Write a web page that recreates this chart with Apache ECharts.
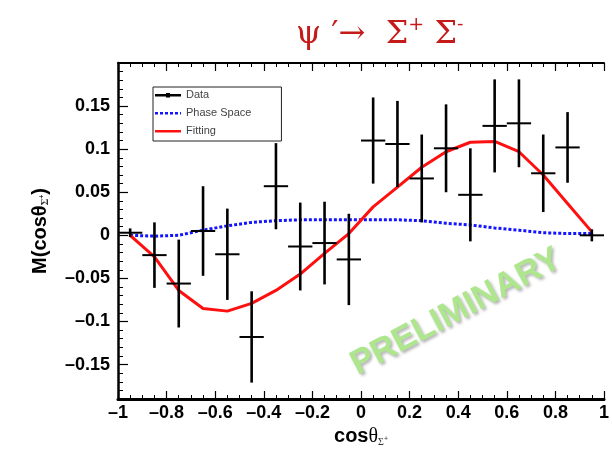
<!DOCTYPE html>
<html>
<head>
<meta charset="utf-8">
<script src="https://cdn.jsdelivr.net/npm/echarts@6/dist/echarts.min.js"></script>
<style>
  html, body { margin: 0; padding: 0; background: #fff; }
  #chart { width: 612px; height: 455px; }
</style>
</head>
<body>
<div id="chart"></div>
<script>
// bin centres of cos(theta), 20 bins of width 0.1
const binCenters = [-0.95, -0.85, -0.75, -0.65, -0.55, -0.45, -0.35, -0.25, -0.15, -0.05,
  0.05, 0.15, 0.25, 0.35, 0.45, 0.55, 0.65, 0.75, 0.85, 0.95]
const binHalfWidth = 0.05

// measured moments and their errors
const dataValues = [0.003, -0.023, -0.056, 0.005, -0.022, -0.118, 0.057, -0.013, -0.009, -0.028,
  0.110, 0.106, 0.066, 0.101, 0.047, 0.127, 0.130, 0.072, 0.102, 0.0]
const dataErrors = [0.005, 0.038, 0.051, 0.052, 0.053, 0.053, 0.050, 0.051, 0.048, 0.053,
  0.050, 0.050, 0.051, 0.051, 0.054, 0.054, 0.051, 0.045, 0.041, 0.007]

// fit result and phase space expectation at the bin centres
const fitValues = [0.0, -0.025, -0.064, -0.085, -0.088, -0.079, -0.064, -0.045, -0.021, 0.002,
  0.033, 0.056, 0.079, 0.097, 0.108, 0.109, 0.097, 0.070, 0.037, 0.004]
const phaseSpaceValues = [0.0, -0.001, 0.0, 0.006, 0.011, 0.015, 0.017, 0.018, 0.018, 0.018,
  0.018, 0.018, 0.017, 0.014, 0.012, 0.0085, 0.006, 0.003, 0.002, 0.002]

const yMajorTicks = [-0.15, -0.1, -0.05, 0, 0.05, 0.1, 0.15]
const yMinorTicks = []
for (let i = -19; i <= 20; i++) {
  if (i % 5 !== 0) yMinorTicks.push(i / 100)
}

const dash = (v) => String(v).replace('-', '\u2013')
const black = '#000'
const axisFont = { color: black, fontSize: 18, fontWeight: 'bold', fontFamily: 'Liberation Sans' }

// legend glyphs (stretched to itemWidth x itemHeight, so the bbox is pinned by moveTo 0,0 and 26,14)
const dataIcon = 'path://M0,0M0,6H26V8.5H0ZM11,5H15V9.5H11ZM26,14'
const dashedIcon = 'path://M0,0M0,6H3V8.5H0ZM5,6H8V8.5H5ZM10,6H13V8.5H10ZM15,6H18V8.5H15ZM20,6H23V8.5H20ZM25,6H26V8.5H25ZM26,14'
const solidIcon = 'path://M0,0M0,6H26V8.5H0ZM26,14'

const chart = echarts.init(document.getElementById('chart'))

chart.setOption({
  animation: false,
  backgroundColor: '#fff',
  title: {
    text: '{a|\u03c8 \u2032\u2192  \u03a3}{s|+}{a| \u03a3}{s|-}',
    left: 291,
    top: 11,
    textStyle: {
      fontWeight: 'normal',
      rich: {
        a: { fontSize: 32, fontWeight: 'normal', fontFamily: 'DejaVu Serif', color: '#c41a1a', lineHeight: 37 },
        s: { fontSize: 19, fontWeight: 'normal', fontFamily: 'DejaVu Serif', color: '#c41a1a', verticalAlign: 'top', lineHeight: 21 }
      }
    }
  },
  legend: {
    orient: 'vertical',
    left: 153,
    top: 87,
    itemWidth: 26,
    itemHeight: 14,
    itemGap: 4,
    padding: [1, 30, 3, 2],
    borderColor: '#222',
    borderWidth: 1,
    backgroundColor: '#fff',
    textStyle: { fontSize: 11, color: '#444', fontFamily: 'Liberation Sans' },
    data: [
      { name: 'Data', icon: dataIcon },
      { name: 'Phase Space', icon: dashedIcon },
      { name: 'Fitting', icon: solidIcon }
    ]
  },
  grid: { left: 118, top: 63, right: -10, bottom: 56 },
  xAxis: [
    {
      type: 'value',
      min: -1,
      max: 1,
      interval: 0.2,
      position: 'bottom',
      name: '{b|cos}{t|\u03b8}{sub|\u03a3}{sup|+}',
      nameLocation: 'middle',
      nameGap: 25,
      nameTextStyle: {
        rich: {
          b: { fontSize: 20, fontWeight: 'bold', fontFamily: 'Liberation Sans', color: black },
          t: { fontSize: 20, fontFamily: 'Liberation Serif', color: black },
          sub: { fontSize: 10, fontFamily: 'Liberation Serif', color: '#333', verticalAlign: 'bottom', padding: [8, 0, 0, 0] },
          sup: { fontSize: 7, fontFamily: 'Liberation Sans', color: '#333', verticalAlign: 'bottom', padding: [0, 0, 4, 0] }
        }
      },
      axisLine: { onZero: false, lineStyle: { color: black, width: 3 } },
      axisTick: { inside: true, length: 8, lineStyle: { color: black, width: 1.2 } },
      minorTick: { show: true, splitNumber: 4, length: 4, lineStyle: { color: black, width: 1 } },
      axisLabel: { ...axisFont, margin: 5, formatter: dash },
      splitLine: { show: false }
    },
    {
      type: 'value',
      min: -1,
      max: 1,
      interval: 0.2,
      position: 'top',
      axisLine: { onZero: false, lineStyle: { color: black, width: 2 } },
      axisTick: { inside: true, length: 8, lineStyle: { color: black, width: 1.2 } },
      minorTick: { show: true, splitNumber: 4, length: 4, lineStyle: { color: black, width: 1 } },
      axisLabel: { show: false },
      splitLine: { show: false }
    }
  ],
  yAxis: [
    {
      type: 'value',
      min: -0.19,
      max: 0.2,
      position: 'left',
      name: 'M(cos\u03b8{sub|\u03a3}{sup|+})',
      nameLocation: 'middle',
      nameRotate: 90,
      nameGap: 68,
      nameTextStyle: {
        fontSize: 20,
        fontWeight: 'bold',
        fontFamily: 'Liberation Sans',
        color: black,
        rich: {
          sub: { fontSize: 10, fontFamily: 'Liberation Serif', color: '#333', verticalAlign: 'bottom', padding: [8, 0, 0, 0] },
          sup: { fontSize: 7, fontFamily: 'Liberation Sans', color: '#333', verticalAlign: 'bottom', padding: [0, 0, 4, 0] }
        }
      },
      axisLine: { onZero: false, lineStyle: { color: black, width: 2.5 } },
      axisTick: { inside: true, length: 10, customValues: yMajorTicks, lineStyle: { color: black, width: 1.2 } },
      axisLabel: { ...axisFont, margin: 8, customValues: yMajorTicks, formatter: dash },
      splitLine: { show: false }
    },
    {
      type: 'value',
      min: -0.19,
      max: 0.2,
      position: 'left',
      axisLine: { show: false, onZero: false },
      axisTick: { inside: true, length: 5, customValues: yMinorTicks, lineStyle: { color: black, width: 1 } },
      axisLabel: { show: false },
      splitLine: { show: false }
    }
  ],
  graphic: [
    {
      type: 'text',
      x: 456,
      y: 312,
      rotation: 0.49,
      z: 1,
      style: {
        text: 'PRELIMINARY',
        fill: '#aee68e',
        font: 'bold 34px "Liberation Sans"',
        align: 'center',
        verticalAlign: 'middle',
        textShadowColor: 'rgba(0,0,0,0.3)',
        textShadowBlur: 3,
        textShadowOffsetX: 2,
        textShadowOffsetY: 2
      }
    }
  ],
  series: [
    {
      name: 'Data',
      type: 'custom',
      z: 5,
      itemStyle: { color: black },
      data: binCenters.map((x, i) => [x, dataValues[i], dataErrors[i]]),
      renderItem: (params, api) => {
        const x = api.value(0)
        const y = api.value(1)
        const e = api.value(2)
        const lo = api.coord([x, y - e])
        const hi = api.coord([x, y + e])
        const left = api.coord([x - binHalfWidth, y])
        const right = api.coord([x + binHalfWidth, y])
        return {
          type: 'group',
          children: [
            { type: 'line', shape: { x1: lo[0], y1: lo[1], x2: hi[0], y2: hi[1] }, style: { stroke: black, lineWidth: 2.6 } },
            { type: 'line', shape: { x1: left[0], y1: left[1], x2: right[0], y2: right[1] }, style: { stroke: black, lineWidth: 2 } }
          ]
        }
      }
    },
    {
      name: 'Phase Space',
      type: 'line',
      z: 3,
      symbol: 'none',
      data: binCenters.map((x, i) => [x, phaseSpaceValues[i]]),
      lineStyle: { color: '#1414ff', width: 3, type: [3, 2] },
      itemStyle: { color: '#1414ff' }
    },
    {
      name: 'Fitting',
      type: 'line',
      z: 4,
      symbol: 'none',
      data: binCenters.map((x, i) => [x, fitValues[i]]),
      lineStyle: { color: '#ff1010', width: 3 },
      itemStyle: { color: '#ff1010' }
    }
  ]
})
</script>
</body>
</html>
